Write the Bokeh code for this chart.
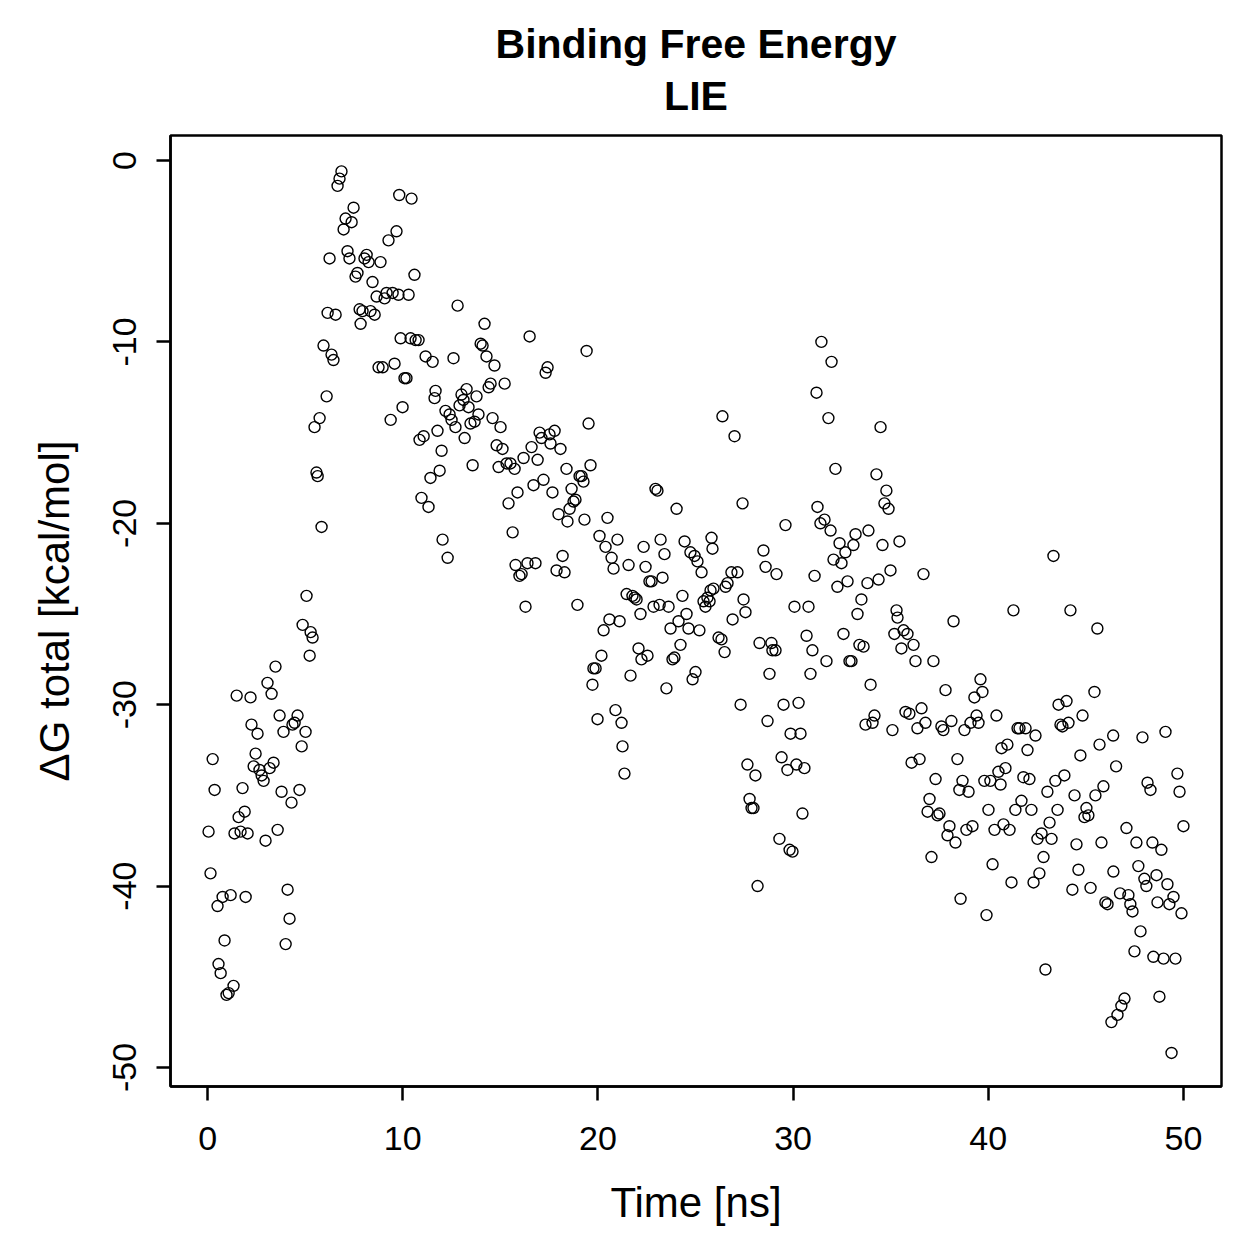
from bokeh.plotting import figure
from bokeh.models import FixedTicker, Title, Range1d
from bokeh.embed import file_html
from bokeh.resources import INLINE

time_ns = [
    0.05, 0.15, 0.26, 0.36, 0.51, 0.56, 0.67, 0.77, 0.87, 0.97,
    1.08, 1.18, 1.33, 1.38, 1.49, 1.59, 1.69, 1.79, 1.90, 1.95,
    2.05, 2.20, 2.25, 2.36, 2.46, 2.56, 2.66, 2.77, 2.87, 2.97,
    3.07, 3.18, 3.28, 3.38, 3.48, 3.59, 3.69, 3.79, 3.89, 4.00,
    4.10, 4.20, 4.30, 4.35, 4.46, 4.61, 4.71, 4.82, 4.87, 5.02,
    5.07, 5.23, 5.28, 5.38, 5.48, 5.58, 5.64, 5.74, 5.84, 5.94,
    6.10, 6.15, 6.25, 6.35, 6.45, 6.56, 6.66, 6.76, 6.86, 6.97,
    7.07, 7.17, 7.27, 7.38, 7.48, 7.58, 7.68, 7.79, 7.84, 7.94,
    8.04, 8.15, 8.25, 8.35, 8.45, 8.56, 8.66, 8.76, 8.86, 8.97,
    9.07, 9.17, 9.27, 9.38, 9.48, 9.58, 9.68, 9.78, 9.82, 9.89,
    9.99, 10.09, 10.19, 10.30, 10.40, 10.45, 10.60, 10.66, 10.81, 10.86,
    10.96, 11.07, 11.17, 11.32, 11.42, 11.53, 11.63, 11.68, 11.78, 11.89,
    11.99, 12.04, 12.19, 12.30, 12.40, 12.50, 12.60, 12.70, 12.81, 12.91,
    13.01, 13.11, 13.17, 13.27, 13.37, 13.47, 13.58, 13.68, 13.78, 13.88,
    13.99, 14.09, 14.19, 14.29, 14.40, 14.50, 14.60, 14.70, 14.81, 14.91,
    15.01, 15.11, 15.22, 15.32, 15.42, 15.52, 15.63, 15.73, 15.78, 15.88,
    15.98, 16.09, 16.19, 16.29, 16.39, 16.50, 16.60, 16.70, 16.80, 16.91,
    17.01, 17.11, 17.21, 17.32, 17.42, 17.52, 17.57, 17.67, 17.78, 17.88,
    17.98, 18.08, 18.19, 18.29, 18.39, 18.44, 18.55, 18.65, 18.75, 18.85,
    18.95, 19.06, 19.16, 19.26, 19.31, 19.42, 19.52, 19.62, 19.72, 19.77,
    19.88, 19.98, 20.08, 20.18, 20.29, 20.39, 20.49, 20.59, 20.70, 20.80,
    20.90, 21.00, 21.11, 21.21, 21.26, 21.36, 21.47, 21.57, 21.67, 21.77,
    21.88, 21.98, 22.08, 22.18, 22.23, 22.34, 22.44, 22.54, 22.64, 22.75,
    22.85, 22.95, 23.05, 23.16, 23.21, 23.31, 23.41, 23.51, 23.62, 23.72,
    23.82, 23.92, 24.03, 24.13, 24.23, 24.33, 24.44, 24.54, 24.64, 24.74,
    24.85, 24.95, 25.00, 25.10, 25.20, 25.31, 25.41, 25.51, 25.61, 25.72,
    25.77, 25.82, 25.87, 25.92, 26.18, 26.33, 26.38, 26.54, 26.49, 26.64,
    26.84, 26.90, 27.00, 27.15, 27.31, 27.41, 27.46, 27.56, 27.66, 27.77,
    27.87, 27.97, 28.07, 28.18, 28.28, 28.48, 28.59, 28.69, 28.79, 28.89,
    28.94, 29.10, 29.15, 29.30, 29.41, 29.51, 29.61, 29.71, 29.82, 29.87,
    29.97, 30.07, 30.17, 30.28, 30.38, 30.48, 30.58, 30.69, 30.79, 30.89,
    30.99, 31.10, 31.20, 31.25, 31.45, 31.40, 31.61, 31.71, 31.81, 31.92,
    31.97, 32.07, 32.17, 32.27, 32.38, 32.48, 32.58, 32.68, 32.79, 32.89,
    32.99, 33.09, 33.20, 33.30, 33.40, 33.50, 33.61, 33.71, 33.81, 33.86,
    33.97, 34.07, 34.17, 34.27, 34.38, 34.48, 34.58, 34.68, 34.78, 34.89,
    34.99, 35.09, 35.19, 35.30, 35.35, 35.45, 35.55, 35.66, 35.76, 35.86,
    35.96, 36.07, 36.17, 36.27, 36.37, 36.48, 36.58, 36.68, 36.78, 36.89,
    36.99, 37.09, 37.19, 37.30, 37.40, 37.50, 37.60, 37.70, 37.81, 37.91,
    38.01, 38.11, 38.22, 38.32, 38.42, 38.52, 38.58, 38.68, 38.78, 38.88,
    38.99, 39.09, 39.19, 39.29, 39.40, 39.50, 39.60, 39.70, 39.80, 39.91,
    40.01, 40.11, 40.22, 40.32, 40.42, 40.52, 40.63, 40.68, 40.78, 40.88,
    40.98, 41.09, 41.19, 41.29, 41.39, 41.50, 41.60, 41.70, 41.80, 41.91,
    42.01, 42.11, 42.21, 42.32, 42.42, 42.52, 42.62, 42.73, 42.83, 42.93,
    43.03, 43.14, 43.24, 43.34, 43.44, 43.55, 43.60, 43.70, 43.80, 43.90,
    44.01, 44.11, 44.21, 44.31, 44.42, 44.52, 44.62, 44.72, 44.83, 44.93,
    45.03, 45.13, 45.24, 45.44, 45.49, 45.59, 45.70, 45.80, 45.90, 46.00,
    46.11, 46.31, 46.40, 46.41, 46.62, 46.55, 46.82, 46.75, 46.98, 47.08,
    47.18, 47.28, 47.39, 47.49, 47.59, 47.69, 47.80, 47.90, 48.00, 48.10,
    48.16, 48.31, 48.41, 48.46, 48.62, 48.67, 48.77, 48.87, 48.98, 49.08,
    49.18, 49.28, 49.39, 49.49, 49.59, 49.69, 49.80, 49.90, 50.00,
]

dg_total = [
    -37.0, -39.3, -33.0, -34.7, -41.1, -44.3, -44.8, -40.6, -43.0, -46.0,
    -45.9, -40.5, -45.5, -37.1, -29.5, -36.2, -37.0, -34.6, -35.9, -40.6,
    -37.1, -29.6, -31.1, -33.4, -32.7, -31.6, -33.6, -33.9, -34.2, -37.5,
    -28.8, -33.5, -29.4, -33.2, -27.9, -36.9, -30.6, -34.8, -31.5, -43.2,
    -40.2, -41.8, -35.4, -31.1, -31.0, -30.6, -34.7, -32.3, -25.6, -31.5,
    -24.0, -27.3, -26.0, -26.3, -14.7, -17.2, -17.4, -14.2, -20.2, -10.2,
    -13.0, -8.4, -5.4, -10.7, -11.0, -8.5, -1.4, -1.0, -0.6, -3.8,
    -3.2, -5.0, -5.4, -3.4, -2.6, -6.4, -6.2, -8.2, -9.0, -8.3,
    -5.4, -5.2, -5.6, -8.3, -6.7, -8.5, -7.5, -11.4, -5.6, -11.4,
    -7.6, -7.3, -4.4, -14.3, -7.3, -11.2, -3.9, -7.4, -1.9, -9.8,
    -13.6, -12.0, -12.0, -7.4, -9.8, -2.1, -6.3, -9.9, -9.9, -15.4,
    -18.6, -15.2, -10.8, -19.1, -17.5, -11.1, -13.1, -12.7, -14.9, -17.1,
    -16.0, -20.9, -13.8, -21.9, -14.0, -14.3, -10.9, -14.7, -8.0, -13.5,
    -12.9, -13.2, -15.3, -12.6, -13.6, -14.5, -16.8, -14.4, -13.0, -14.0,
    -10.1, -10.2, -9.0, -10.8, -12.5, -12.3, -14.2, -11.3, -15.7, -16.9,
    -14.7, -15.9, -12.3, -16.7, -18.9, -16.7, -20.5, -17.0, -22.3, -18.3,
    -22.9, -22.8, -16.4, -24.6, -22.2, -9.7, -15.8, -17.9, -22.2, -16.5,
    -15.0, -15.3, -17.6, -11.7, -11.4, -15.1, -15.6, -18.3, -14.9, -22.6,
    -19.5, -15.9, -21.8, -22.7, -17.0, -19.9, -19.2, -18.1, -18.8, -18.7,
    -24.5, -17.4, -17.4, -17.7, -19.8, -10.5, -14.5, -16.8, -28.9, -28.0,
    -28.0, -30.8, -20.7, -27.3, -25.9, -21.3, -19.7, -25.3, -21.9, -22.5,
    -30.3, -20.9, -25.4, -31.0, -32.3, -33.8, -23.9, -22.3, -28.4, -24.0,
    -24.1, -24.2, -26.9, -25.0, -27.5, -21.3, -22.4, -27.3, -23.2, -23.2,
    -24.6, -18.1, -18.2, -24.5, -20.9, -23.0, -21.7, -29.1, -24.6, -25.8,
    -27.5, -27.4, -19.2, -25.4, -26.7, -24.0, -21.0, -25.0, -25.8, -21.6,
    -28.6, -21.8, -28.2, -22.1, -25.9, -22.7, -24.3, -24.6, -24.1, -24.3,
    -23.7, -20.8, -21.4, -23.6, -26.3, -26.4, -14.1, -23.5, -27.1, -23.3,
    -22.7, -25.3, -15.2, -22.7, -30.0, -18.9, -24.2, -24.9, -33.3, -35.2,
    -35.7, -35.7, -33.9, -40.0, -26.6, -21.5, -22.4, -30.9, -28.3, -26.6,
    -27.0, -27.0, -22.8, -37.4, -32.9, -30.0, -20.1, -33.6, -38.0, -31.6,
    -38.1, -24.6, -33.3, -29.9, -31.6, -36.0, -33.5, -26.2, -24.6, -28.3,
    -27.0, -22.9, -12.8, -19.1, -10.0, -20.0, -19.8, -27.6, -14.2, -20.4,
    -11.1, -22.0, -17.0, -23.5, -21.1, -22.2, -26.1, -21.6, -23.2, -27.6,
    -27.6, -21.2, -20.6, -25.0, -26.7, -24.2, -26.8, -31.1, -23.3, -20.4,
    -28.9, -31.0, -30.6, -17.3, -23.1, -14.7, -21.2, -18.9, -18.2, -19.2,
    -22.6, -31.4, -26.1, -24.8, -25.2, -21.0, -26.9, -25.9, -30.4, -26.1,
    -30.5, -33.2, -26.7, -27.6, -31.3, -33.0, -30.2, -22.8, -31.0, -35.9,
    -35.2, -38.4, -27.6, -34.1, -36.1, -36.0, -31.2, -31.4, -29.2, -37.2,
    -36.7, -30.9, -25.4, -37.6, -33.0, -34.7, -40.7, -34.2, -31.4, -36.9,
    -34.8, -31.0, -36.7, -29.6, -30.6, -31.0, -28.6, -29.3, -34.2, -41.6,
    -35.8, -34.2, -38.8, -36.9, -30.6, -33.7, -34.4, -32.4, -36.6, -33.5,
    -32.2, -36.9, -39.8, -24.8, -35.8, -31.3, -31.3, -35.3, -34.0, -31.3,
    -32.5, -34.1, -35.8, -39.8, -31.7, -37.4, -39.3, -37.1, -38.4, -44.6,
    -34.8, -36.5, -37.4, -21.8, -34.2, -35.8, -30.0, -31.1, -31.2, -33.9,
    -29.8, -31.0, -24.8, -40.2, -35.0, -37.7, -39.1, -32.8, -30.6, -36.2,
    -35.7, -36.1, -40.1, -29.3, -35.0, -25.8, -32.2, -37.6, -34.5, -40.9,
    -41.0, -47.5, -31.7, -39.2, -47.1, -33.4, -46.6, -40.4, -46.2, -36.8,
    -40.5, -41.0, -41.4, -43.6, -37.6, -38.9, -42.5, -31.8, -39.6, -40.0,
    -34.3, -34.7, -37.6, -43.9, -39.4, -40.9, -46.1, -38.0, -44.0, -31.5,
    -39.9, -41.0, -49.2, -40.6, -44.0, -33.8, -34.8, -41.5, -36.7,
]

x_ticks = [0, 10, 20, 30, 40, 50]
y_ticks = [0, -10, -20, -30, -40, -50]
y_tick_labels = {0: "0", -10: "-10", -20: "-20", -30: "-30", -40: "-40", -50: "-50"}
FONT = "Liberation Sans"

n = min(len(time_ns), len(dg_total))

p = figure(width=1259, height=1259, output_backend="svg", toolbar_location=None,
           x_range=Range1d(-1.9, 51.95), y_range=Range1d(-51.05, 1.38),
           min_border_left=170, min_border_right=38, min_border_top=135, min_border_bottom=173)
p.title = None
p.add_layout(Title(text="LIE", align="center", text_font=FONT, text_font_size="41px",
                   text_font_style="bold", text_color="black", standoff=34), "above")
p.add_layout(Title(text="Binding Free Energy", align="center", text_font=FONT, text_font_size="41px",
                   text_font_style="bold", text_color="black", standoff=-26), "above")

p.scatter(time_ns[:n], dg_total[:n], marker="circle", size=11, fill_color=None,
          line_color="black", line_width=1.4)

p.grid.visible = False
p.outline_line_color = "black"
p.outline_line_width = 2.5
p.background_fill_color = "white"
p.border_fill_color = "white"

for ax in (p.xaxis[0], p.yaxis[0]):
    ax.axis_line_color = "black"
    ax.axis_line_width = 2.5
    ax.major_tick_line_width = 2.5
    ax.major_tick_out = 14
    ax.major_tick_in = 0
    ax.minor_tick_line_color = None
    ax.major_label_text_font = FONT
    ax.major_label_text_font_size = "34px"
    ax.major_label_text_color = "black"
    ax.axis_label_text_font = FONT
    ax.axis_label_text_font_size = "42px"
    ax.axis_label_text_font_style = "normal"
    ax.axis_label_text_color = "black"

p.xaxis.ticker = FixedTicker(ticks=x_ticks)
p.yaxis.ticker = FixedTicker(ticks=y_ticks)
p.yaxis.major_label_overrides = y_tick_labels
p.xaxis.axis_label = "Time [ns]"
p.yaxis.axis_label = "ΔG total [kcal/mol]"
p.yaxis.major_label_orientation = "parallel"
p.xaxis.major_label_standoff = 26
p.yaxis.major_label_standoff = 20
p.xaxis.axis_label_standoff = 26
p.yaxis.axis_label_standoff = 33

open("out.html", "w").write(file_html(p, INLINE))
